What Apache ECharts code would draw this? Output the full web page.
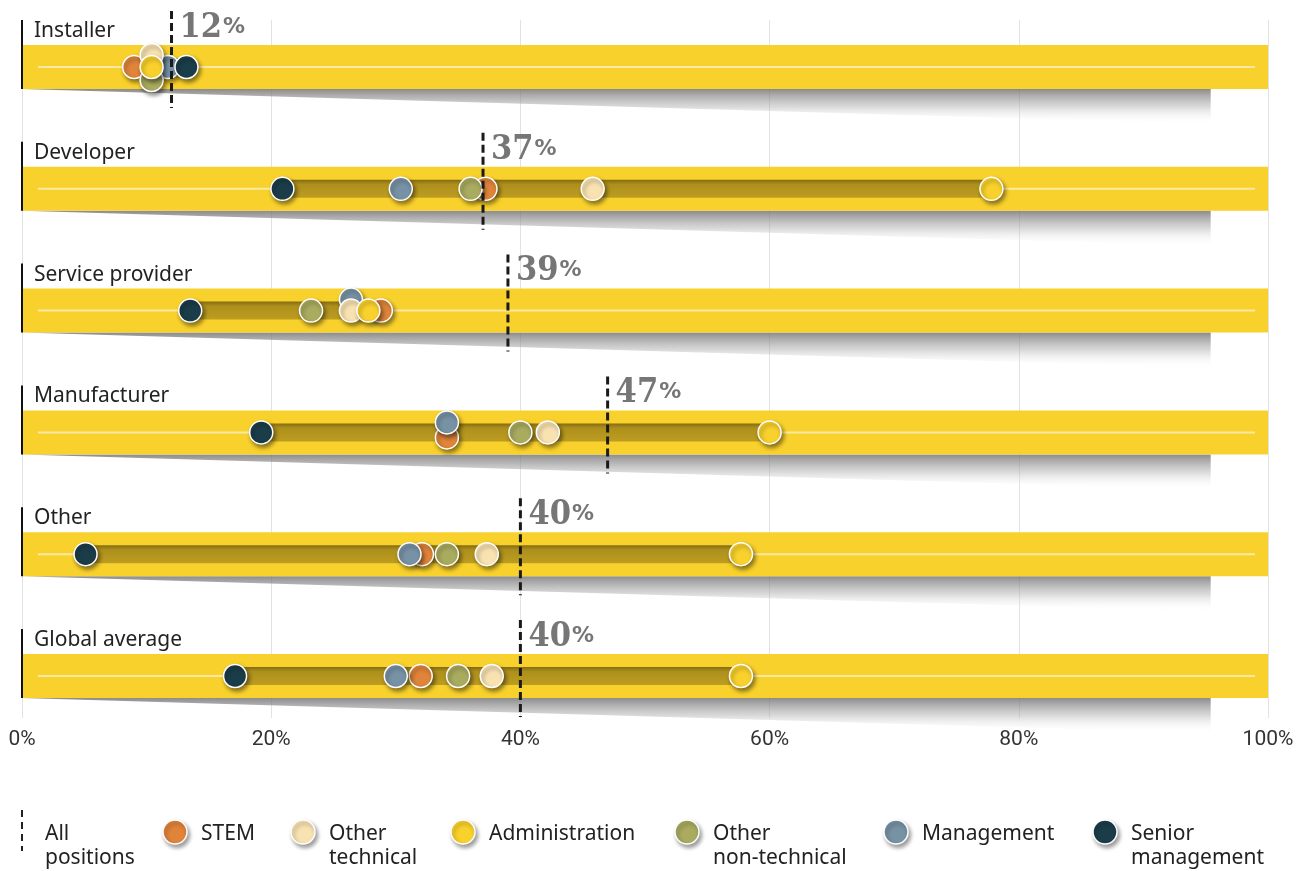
<!DOCTYPE html>
<html>
<head>
<meta charset="utf-8">
<script src="https://cdn.jsdelivr.net/npm/echarts@6/dist/echarts.min.js"></script>
<style>html,body{margin:0;padding:0;background:#fff}#c{width:1309px;height:871px}</style>
</head>
<body>
<div id="c"></div>
<script>
// ---- data ----
const rows = ['Installer', 'Developer', 'Service provider', 'Manufacturer', 'Other', 'Global average'];
const allPositions = [12, 37, 39, 47, 40, 40];
const stem = [9.0, 37.2, 28.8, 34.1, 32.1, 32.0];
const otherTechnical = [10.4, 45.8, 26.4, 42.2, 37.3, 37.7];
const administration = [10.4, 77.8, 27.8, 60.0, 57.7, 57.7];
const otherNonTechnical = [10.4, 36.0, 23.2, 40.0, 34.1, 35.0];
const management = [11.7, 30.4, 26.4, 34.1, 31.1, 30.0];
const seniorManagement = [13.2, 20.9, 13.5, 19.2, 5.1, 17.1];
const xTicks = [0, 20, 40, 60, 80, 100];
const groupNames = ['STEM', 'Other technical', 'Administration', 'Other non-technical', 'Management', 'Senior management'];
const legendLabels = ['STEM', 'Other\ntechnical', 'Administration', 'Other\nnon-technical', 'Management', 'Senior\nmanagement'];
const allLabel = 'All\npositions';

// ---- styles ----
const groupValues = [stem, otherTechnical, administration, otherNonTechnical, management, seniorManagement];
const groupColors = ['#e0843a', '#f9e2b2', '#f9d12c', '#a9ab5f', '#7792a5', '#1b3d4a'];
const groupZ = [11, 14, 15, 13, 12, 16];
// vertical jitter (px) used in the original to separate overlapping dots: [row, group, dy]
const jitter = [[0, 1, -12], [0, 3, 13], [2, 4, -11], [3, 4, -10], [3, 0, 5]];
function jit(r, g) { const j = jitter.find(a => a[0] === r && a[1] === g); return j ? j[2] : 0; }

const BAND_H = 44, RANGE_H = 18;
const TEXT_FONT = '21px "Noto Sans", sans-serif';
const chart = echarts.init(document.getElementById('c'), null, {renderer: 'canvas'});

const dotSeries = groupNames.map((name, g) => ({
  name: name, type: 'scatter', z: groupZ[g],
  symbol: 'circle', symbolSize: 23,
  itemStyle: {color: groupColors[g], borderColor: '#fff', borderWidth: 1.5, opacity: 1,
    shadowBlur: 4, shadowOffsetX: 2, shadowOffsetY: 3, shadowColor: 'rgba(0,0,0,0.45)'},
  emphasis: {disabled: true},
  data: groupValues[g].map((v, r) => ({value: [v, r], symbolOffset: [0, jit(r, g)]}))
}));

const rangeData = rows.map((r, i) => {
  const vals = groupValues.map(a => a[i]);
  return [Math.min.apply(null, vals), Math.max.apply(null, vals), i];
});

const legendX = [175, 303, 463, 687, 896, 1105];
const graphics = [
  {type: 'line', shape: {x1: 22, y1: 810, x2: 22, y2: 851}, style: {stroke: '#222', lineWidth: 2, lineDash: [7, 5]}},
  {type: 'text', x: 45, y: 822, style: {text: allLabel, font: TEXT_FONT, fill: '#222', lineHeight: 24}}
];
legendLabels.forEach((t, g) => {
  graphics.push({type: 'circle', shape: {cx: legendX[g], cy: 832, r: 12},
    style: {fill: groupColors[g], stroke: '#fff', lineWidth: 1.5, shadowBlur: 4, shadowOffsetX: 2, shadowOffsetY: 3, shadowColor: 'rgba(0,0,0,0.4)'}});
  graphics.push({type: 'text', x: legendX[g] + 26, y: 822,
    style: {text: t, font: TEXT_FONT, fill: '#222', lineHeight: 24}});
});

chart.setOption({
  animation: false,
  grid: {left: 22, right: 41, top: 20, bottom: 153},
  xAxis: {
    type: 'value', min: xTicks[0], max: xTicks[xTicks.length - 1], interval: 20,
    axisLine: {show: false}, axisTick: {show: false},
    splitLine: {show: true, lineStyle: {color: '#e2e2e2', width: 1}},
    axisLabel: {formatter: '{value}%', fontSize: 21, color: '#333', margin: 11,
      fontFamily: '"Liberation Sans Narrow", "Roboto", sans-serif'}
  },
  yAxis: {type: 'value', inverse: true, min: -0.386, max: 5.345, show: false},
  graphic: graphics,
  series: [
    {
      type: 'custom', z: 2, silent: true,
      data: rows.map((r, i) => [0, 100, i]),
      renderItem: function (params, api) {
        const i = api.value(2);
        const p0 = api.coord([api.value(0), i]);
        const p1 = api.coord([api.value(1), i]);
        const c = p0[1];
        const xEnd = p0[0] + 0.954 * (p1[0] - p0[0]);
        return {type: 'group', children: [
          {type: 'polygon', shape: {points: [[p0[0], c + BAND_H / 2], [xEnd, c + BAND_H / 2], [xEnd, c + BAND_H / 2 + 35]]},
            style: {fill: new echarts.graphic.LinearGradient(0, 0, 0, 1, [
              {offset: 0, color: 'rgba(110,110,110,0.8)'}, {offset: 0.5, color: 'rgba(170,170,170,0.45)'}, {offset: 1, color: 'rgba(255,255,255,0)'}])}},
          {type: 'rect', shape: {x: p0[0], y: c - BAND_H / 2, width: p1[0] - p0[0], height: BAND_H},
            style: {fill: '#f9d12c'}},
          {type: 'line', shape: {x1: p0[0] + 16, y1: c, x2: p1[0] - 13, y2: c},
            style: {stroke: '#fce9a6', lineWidth: 2}},
          {type: 'line', shape: {x1: p0[0], y1: c - 47, x2: p0[0], y2: c + BAND_H / 2},
            style: {stroke: '#111', lineWidth: 2}},
          {type: 'text', x: p0[0] + 12, y: c - 36,
            style: {text: rows[i], font: TEXT_FONT, fill: '#222', verticalAlign: 'middle', align: 'left'}}
        ]};
      }
    },
    {
      type: 'custom', z: 3, silent: true,
      data: rangeData,
      renderItem: function (params, api) {
        const i = api.value(2);
        const p0 = api.coord([api.value(0), i]);
        const p1 = api.coord([api.value(1), i]);
        const c = p0[1];
        return {type: 'rect', shape: {x: p0[0], y: c - RANGE_H / 2, width: p1[0] - p0[0], height: RANGE_H},
          style: {fill: new echarts.graphic.LinearGradient(0, 0, 0, 1, [
            {offset: 0, color: '#846b12'}, {offset: 0.25, color: '#ad8f1c'}, {offset: 1, color: '#bd9d21'}])}};
      }
    },
    {
      type: 'custom', z: 20, silent: true,
      data: allPositions.map((v, i) => [v, i]),
      renderItem: function (params, api) {
        const i = api.value(1);
        const p = api.coord([api.value(0), i]);
        const c = p[1];
        return {type: 'group', children: [
          {type: 'line', shape: {x1: p[0], y1: c - 56, x2: p[0], y2: c + 41},
            style: {stroke: '#1a1a1a', lineWidth: 3, lineDash: [8, 4]}},
          {type: 'text', x: p[0] + 8, y: c - 22,
            style: {text: '{n|' + api.value(0) + '}{p|%}', verticalAlign: 'bottom', align: 'left',
              rich: {
                n: {fontFamily: '"DejaVu Serif Condensed", "DejaVu Serif", serif', fontWeight: 'bold', fontSize: 34, fill: '#767676', color: '#767676'},
                p: {fontFamily: '"DejaVu Sans", sans-serif', fontWeight: 'bold', fontSize: 22, fill: '#767676', color: '#767676', padding: [0, 0, 2, 1]}
              }}}
        ]};
      }
    }
  ].concat(dotSeries)
});
</script>
</body>
</html>
